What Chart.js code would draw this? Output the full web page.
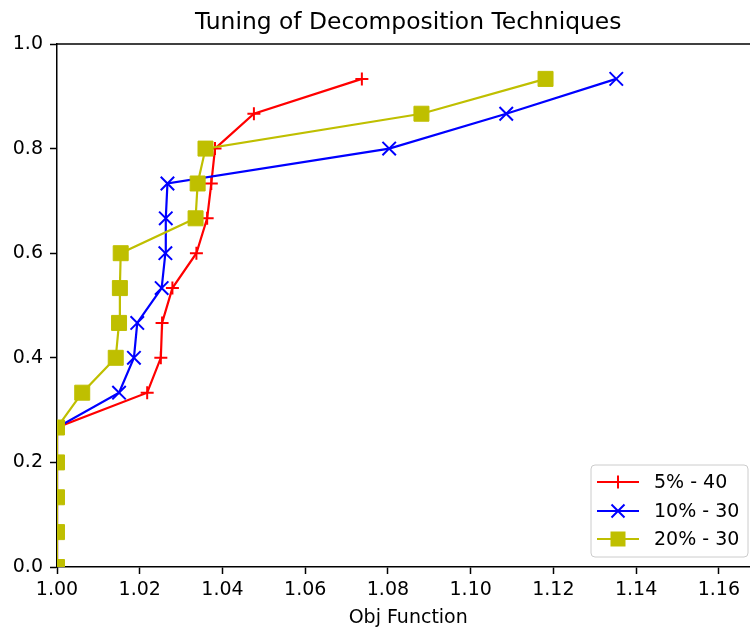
<!DOCTYPE html>
<html>
<head>
<meta charset="utf-8">
<script src="https://cdn.jsdelivr.net/npm/chart.js@4/dist/chart.umd.min.js"></script>
<style>
  html, body { margin: 0; background: #fff; overflow: hidden; }
  #wrap { width: 750px; height: 630px; overflow: hidden; }
</style>
</head>
<body>
<div id="wrap"><canvas id="myChart" width="771" height="630"></canvas></div>
<script>
// niveles del eje y (k/15) y valores de la funcion objetivo por serie
const yLevels = [0, 0.0667, 0.1333, 0.2, 0.2667, 0.3333, 0.4, 0.4667, 0.5333, 0.6, 0.6667, 0.7333, 0.8, 0.8667, 0.9333];
const objRed = [1.0, 1.0, 1.0, 1.0, 1.0, 1.0218, 1.0251, 1.0254, 1.0279, 1.0337, 1.0363, 1.0373, 1.0382, 1.0476, 1.0737];
const objBlue = [1.0, 1.0, 1.0, 1.0, 1.0, 1.0150, 1.0186, 1.0194, 1.0253, 1.0262, 1.0263, 1.0267, 1.0803, 1.1086, 1.1352];
const objYellow = [1.0, 1.0, 1.0, 1.0, 1.0, 1.0061, 1.0142, 1.0150, 1.0152, 1.0154, 1.0335, 1.0340, 1.0359, 1.0881, 1.1181];
const seriesLabels = ['5% - 40', '10% - 30', '20% - 30'];
const xTicks = [1.00, 1.02, 1.04, 1.06, 1.08, 1.10, 1.12, 1.14, 1.16];
const yTicks = [0.0, 0.2, 0.4, 0.6, 0.8, 1.0];

const FONT = 'DejaVu Sans';
const RED = '#ff0000';
const BLUE = '#0000ff';
const YEL = '#bfbf00';

function puntos(xs) {
    return xs.map((x, i) => ({ x: x, y: yLevels[i] }));
}

// dibujar un marcador como los de matplotlib
function marcador(ctx, estilo, x, y, color) {
    ctx.save();
    ctx.strokeStyle = color;
    ctx.fillStyle = color;
    ctx.lineWidth = 2;
    ctx.beginPath();
    if (estilo === 'cross') {
        ctx.moveTo(x - 6.5, y); ctx.lineTo(x + 6.5, y);
        ctx.moveTo(x, y - 6.5); ctx.lineTo(x, y + 6.5);
        ctx.stroke();
    } else if (estilo === 'crossRot') {
        ctx.moveTo(x - 6.5, y - 6.5); ctx.lineTo(x + 6.5, y + 6.5);
        ctx.moveTo(x - 6.5, y + 6.5); ctx.lineTo(x + 6.5, y - 6.5);
        ctx.stroke();
    } else {
        ctx.fillRect(x - 7.5, y - 7.5, 15, 15);
    }
    ctx.restore();
}

const extras = {
    id: 'extras',
    afterDraw(chart) {
        const ctx = chart.ctx;
        const a = chart.chartArea;
        ctx.save();
        // borde superior
        ctx.strokeStyle = '#000';
        ctx.lineWidth = 1.5;
        ctx.beginPath();
        ctx.moveTo(a.left, a.top);
        ctx.lineTo(a.right + 1, a.top);
        ctx.stroke();

        // titulo
        ctx.fillStyle = '#000';
        ctx.font = '23.4px "' + FONT + '"';
        ctx.textAlign = 'center';
        ctx.textBaseline = 'alphabetic';
        ctx.fillText('Tuning of Decomposition Techniques', (a.left + a.right) / 2, 29);

        // leyenda
        const bx = 591, by = 465, bw = 157, bh = 92, r = 4;
        ctx.beginPath();
        ctx.moveTo(bx + r, by);
        ctx.arcTo(bx + bw, by, bx + bw, by + bh, r);
        ctx.arcTo(bx + bw, by + bh, bx, by + bh, r);
        ctx.arcTo(bx, by + bh, bx, by, r);
        ctx.arcTo(bx, by, bx + bw, by, r);
        ctx.closePath();
        ctx.fillStyle = 'rgba(255,255,255,0.8)';
        ctx.fill();
        ctx.strokeStyle = '#cccccc';
        ctx.lineWidth = 1;
        ctx.stroke();

        const colores = [RED, BLUE, YEL];
        const estilos = ['cross', 'crossRot', 'rect'];
        const filas = [482, 511, 539];
        ctx.font = '19px "' + FONT + '"';
        ctx.textAlign = 'left';
        ctx.textBaseline = 'middle';
        filas.forEach((fy, i) => {
            ctx.strokeStyle = colores[i];
            ctx.lineWidth = 2.2;
            ctx.beginPath();
            ctx.moveTo(597, fy);
            ctx.lineTo(639, fy);
            ctx.stroke();
            marcador(ctx, estilos[i], 618, fy, colores[i]);
            ctx.fillStyle = '#000';
            ctx.fillText(seriesLabels[i], 654, fy + 1);
        });
        ctx.restore();
    }
};

function serie(label, xs, color, estilo, radio, orden) {
    return {
        label: label,
        data: puntos(xs),
        borderColor: color,
        backgroundColor: color,
        borderWidth: 2.2,
        pointStyle: estilo,
        pointRadius: radio,
        pointBorderWidth: estilo === 'rect' ? 1 : 2,
        pointBorderColor: color,
        pointBackgroundColor: color,
        showLine: true,
        tension: 0,
        clip: 0,
        order: orden
    };
}

new Chart(document.getElementById('myChart').getContext('2d'), {
    type: 'line',
    data: {
        datasets: [
            serie(seriesLabels[0], objRed, RED, 'cross', 6.5, 2),
            serie(seriesLabels[1], objBlue, BLUE, 'crossRot', 9.5, 1),
            serie(seriesLabels[2], objYellow, YEL, 'rect', 10.6, 0)
        ]
    },
    options: {
        responsive: false,
        animation: false,
        devicePixelRatio: 1,
        // el lienzo es mas ancho que la ventana: el eje derecho queda fuera, como en la imagen
        layout: { padding: { top: 44, right: 0, left: 0, bottom: 0 } },
        plugins: {
            legend: { display: false },
            title: { display: false },
            tooltip: { enabled: false }
        },
        scales: {
            x: {
                type: 'linear',
                min: 1.0,
                max: 1.1698,
                afterBuildTicks: s => { s.ticks = xTicks.map(v => ({ value: v })); },
                afterFit: s => { s.height = 63; },
                ticks: {
                    autoSkip: false,
                    maxRotation: 0,
                    padding: 5,
                    color: '#000',
                    font: { family: FONT, size: 19 },
                    callback: v => v.toFixed(2)
                },
                grid: { drawOnChartArea: false, drawTicks: true, tickLength: 7, tickWidth: 1.5, tickColor: '#000' },
                border: { display: true, color: '#000', width: 1.5 },
                title: {
                    display: true,
                    text: 'Obj Function',
                    color: '#000',
                    font: { family: FONT, size: 19 },
                    padding: { top: 0, bottom: 1 }
                }
            },
            y: {
                type: 'linear',
                min: 0,
                max: 1.0,
                afterBuildTicks: s => { s.ticks = yTicks.map(v => ({ value: v })); },
                afterFit: s => { s.width = 57; },
                ticks: {
                    autoSkip: false,
                    padding: 7,
                    color: '#000',
                    font: { family: FONT, size: 19 },
                    callback: v => v.toFixed(1)
                },
                grid: { drawOnChartArea: false, drawTicks: true, tickLength: 7, tickWidth: 1.5, tickColor: '#000' },
                border: { display: true, color: '#000', width: 1.5 }
            }
        }
    },
    plugins: [extras]
});
</script>
</body>
</html>
